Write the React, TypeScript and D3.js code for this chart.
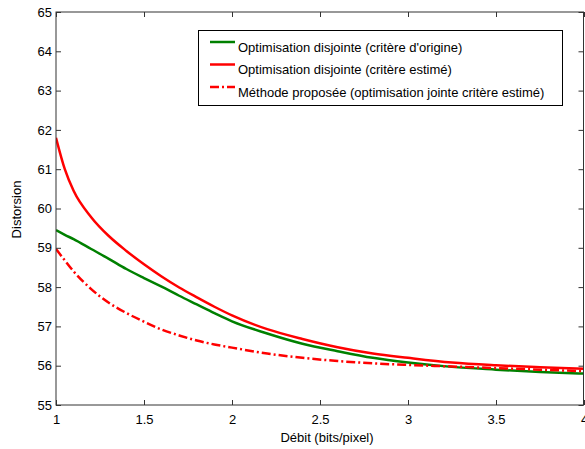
import React, { useRef, useEffect } from 'react';
import * as d3 from 'd3';

// Débit values (bits/pixel)
const rates = [1.0, 1.05, 1.1, 1.2, 1.3, 1.4, 1.5, 1.6, 1.7, 1.8, 1.9, 2.0, 2.2, 2.4, 2.6, 2.8, 3.0, 3.25, 3.5, 3.75, 4.0];

// Distorsion for each method
const disjointOrigine = [59.45, 59.33, 59.22, 58.97, 58.72, 58.46, 58.23, 58.01, 57.78, 57.56, 57.34, 57.13, 56.82, 56.56, 56.37, 56.2, 56.08, 55.97, 55.9, 55.84, 55.8];
const disjointEstime = [61.8, 61.0, 60.45, 59.78, 59.3, 58.92, 58.58, 58.27, 57.99, 57.74, 57.5, 57.28, 56.93, 56.68, 56.47, 56.31, 56.2, 56.08, 56.01, 55.96, 55.92];
const methodeProposee = [58.97, 58.68, 58.4, 57.95, 57.6, 57.34, 57.12, 56.92, 56.77, 56.64, 56.54, 56.46, 56.31, 56.2, 56.12, 56.06, 56.02, 55.98, 55.94, 55.9, 55.86];

const xTicks = [1, 1.5, 2, 2.5, 3, 3.5, 4];
const yTicks = [55, 56, 57, 58, 59, 60, 61, 62, 63, 64, 65];

const seriesLabels = [
  'Optimisation disjointe (critère d\'origine)',
  'Optimisation disjointe (critère estimé)',
  'Méthode proposée (optimisation jointe critère estimé)',
];

const App = () => {
  const chartRef = useRef(null);

  useEffect(() => {
    const root = d3.select(chartRef.current);
    root.selectAll('*').remove();

    const width = 585;
    const height = 449;
    const margin = { left: 56, right: 1, top: 12, bottom: 44 };
    const font = '"Liberation Sans", Arial, Helvetica, sans-serif';

    const svg = root.append('svg')
      .attr('width', width)
      .attr('height', height)
      .style('position', 'absolute')
      .style('left', 0)
      .style('top', 0)
      .style('background', 'white');

    const x = d3.scaleLinear().domain([1, 4]).range([margin.left, width - margin.right]);
    const y = d3.scaleLinear().domain([55, 65]).range([height - margin.bottom, margin.top]);

    const series = [
      { values: disjointOrigine, color: '#008000', dash: null },
      { values: disjointEstime, color: '#ff0000', dash: null },
      { values: methodeProposee, color: '#ff0000', dash: '9,3,2,3' },
    ];

    const line = d3.line()
      .x((d) => x(d[0]))
      .y((d) => y(d[1]))
      .curve(d3.curveMonotoneX);

    // Curves (clipped to the axes box)
    svg.append('clipPath').attr('id', 'plot-clip')
      .append('rect')
      .attr('x', x(1)).attr('y', y(65))
      .attr('width', x(4) - x(1)).attr('height', y(55) - y(65));

    svg.append('g').attr('clip-path', 'url(#plot-clip)')
      .selectAll('path')
      .data(series)
      .enter()
      .append('path')
      .attr('d', (s) => line(rates.map((r, i) => [r, s.values[i]])))
      .attr('fill', 'none')
      .attr('stroke', (s) => s.color)
      .attr('stroke-width', 2.5)
      .attr('stroke-dasharray', (s) => s.dash);

    // Axes box
    const axisColor = '#333';
    svg.append('rect')
      .attr('x', x(1)).attr('y', y(65))
      .attr('width', x(4) - x(1) - 0.5).attr('height', y(55) - y(65))
      .attr('fill', 'none')
      .attr('stroke', axisColor)
      .attr('stroke-width', 1);

    const tickLen = 5;
    const xAxisBottom = d3.axisBottom(x).tickValues(xTicks).tickSizeInner(-tickLen).tickSizeOuter(0).tickPadding(10)
      .tickFormat((d) => d3.format('')(d));
    const xAxisTop = d3.axisTop(x).tickValues(xTicks).tickSizeInner(-tickLen).tickSizeOuter(0).tickFormat(() => '');
    const yAxisLeft = d3.axisLeft(y).tickValues(yTicks).tickSizeInner(-tickLen).tickSizeOuter(0).tickPadding(4);
    const yAxisRight = d3.axisRight(y).tickValues(yTicks).tickSizeInner(-tickLen).tickSizeOuter(0).tickFormat(() => '');

    const gb = svg.append('g').attr('transform', `translate(0,${y(55)})`).call(xAxisBottom);
    svg.append('g').attr('transform', `translate(0,${y(65)})`).call(xAxisTop);
    const gl = svg.append('g').attr('transform', `translate(${x(1)},0)`).call(yAxisLeft);
    svg.append('g').attr('transform', `translate(${x(4) - 0.5},0)`).call(yAxisRight);

    svg.selectAll('.domain').remove();
    svg.selectAll('.tick line').attr('stroke', axisColor);
    [gb, gl].forEach((g) => g.selectAll('text')
      .attr('fill', '#000')
      .style('font-family', font)
      .style('font-size', '13px'));

    // Axis titles
    svg.append('text')
      .attr('x', 327)
      .attr('y', 442)
      .attr('text-anchor', 'middle')
      .style('font-family', font)
      .style('font-size', '13px')
      .text('Débit (bits/pixel)');

    svg.append('text')
      .attr('transform', `translate(21,${(y(55) + y(65)) / 2 + 1}) rotate(-90)`)
      .attr('text-anchor', 'middle')
      .style('font-family', font)
      .style('font-size', '13px')
      .text('Distorsion');

    // Legend
    const legend = svg.append('g').attr('transform', 'translate(198,30)');
    legend.append('rect')
      .attr('x', 0.5).attr('y', 0.5)
      .attr('width', 364).attr('height', 75)
      .attr('fill', 'white')
      .attr('stroke', '#000')
      .attr('stroke-width', 1);

    const rows = legend.selectAll('.row')
      .data(series)
      .enter()
      .append('g')
      .attr('class', 'row')
      .attr('transform', (d, i) => `translate(0,${12 + i * 22.5})`);

    rows.append('line')
      .attr('x1', 12).attr('x2', 37)
      .attr('y1', 0).attr('y2', 0)
      .attr('stroke', (d) => d.color)
      .attr('stroke-width', 2.5)
      .attr('stroke-dasharray', (d) => d.dash);

    rows.append('text')
      .attr('x', 40)
      .attr('y', 9.5)
      .style('font-family', font)
      .style('font-size', '13px')
      .text((d, i) => seriesLabels[i]);

    return () => {
      d3.select(chartRef.current).selectAll('*').remove();
    };
  }, []);

  return <div ref={chartRef} style={{ width: '585px', height: '449px' }} />;
};

export default App;
